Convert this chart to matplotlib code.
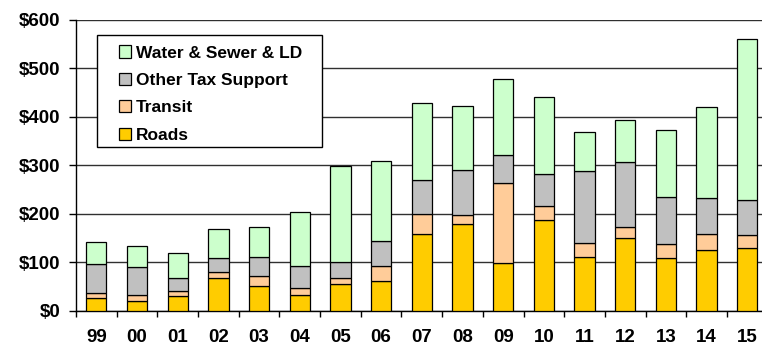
import numpy as np
import matplotlib.pyplot as plt
from matplotlib.patches import Patch, Rectangle

plt.rcParams['font.family'] = ['Liberation Sans', 'DejaVu Sans']
plt.rcParams['font.weight'] = 'bold'

# Datos (millones de $)
years = ['99', '00', '01', '02', '03', '04', '05', '06', '07', '08',
         '09', '10', '11', '12', '13', '14', '15']
roads = [26, 21, 31, 69, 52, 32, 56, 62, 158, 179, 98, 187, 111, 150, 109, 126, 129]
transit = [12, 12, 11, 11, 20, 15, 13, 31, 42, 19, 165, 29, 29, 23, 29, 32, 27]
other_tax = [59, 58, 25, 29, 39, 46, 31, 52, 71, 93, 58, 67, 149, 134, 96, 75, 73]
water_sewer = [46, 44, 53, 60, 62, 112, 198, 164, 158, 132, 157, 158, 80, 87, 140, 187, 331]

series = [
    ('Roads', roads, '#FFCC00'),
    ('Transit', transit, '#FFCC99'),
    ('Other Tax Support', other_tax, '#C0C0C0'),
    ('Water & Sewer & LD', water_sewer, '#CCFFCC'),
]

fig = plt.figure(figsize=(7.62, 3.45), dpi=100)
ax = fig.add_axes([0.0997, 0.0986, 0.9077, 0.8435])

x = np.arange(len(years))
bottom = np.zeros(len(years))
handles = []
for name, vals, color in series:
    ax.bar(x, vals, width=0.5, bottom=bottom, color=color,
           edgecolor='black', linewidth=0.9, zorder=3)
    bottom += np.array(vals)
    handles.append(Patch(facecolor=color, edgecolor='black', linewidth=0.9, label=name))

ax.set_xlim(-0.5, len(years) - 0.5)
ax.set_ylim(0, 600)
ax.set_yticks(range(0, 601, 100))
ax.set_yticklabels([f'${v}' for v in range(0, 601, 100)], fontsize=13.5, fontweight='bold')
ax.yaxis.grid(True, color='#303030', linewidth=1.0, zorder=0)
ax.set_axisbelow(True)

# Marcas entre categorias, etiquetas centradas
ax.set_xticks(np.arange(len(years) + 1) - 0.5)
ax.set_xticklabels([])
ax.set_xticks(x, minor=True)
ax.set_xticklabels(years, minor=True, fontsize=13.5, fontweight='bold')
ax.tick_params(axis='x', which='major', direction='out', length=4, width=1)
ax.tick_params(axis='x', which='minor', length=0, pad=13)
ax.tick_params(axis='y', direction='out', length=5, width=1, pad=6)

for s in ['top', 'right']:
    ax.spines[s].set_visible(False)
ax.spines['left'].set_linewidth(1)
ax.spines['bottom'].set_linewidth(1)

# Marco de la leyenda
ax.add_patch(Rectangle((0.0308, 0.5636), 0.3244, 0.3849, transform=ax.transAxes,
                       facecolor='white', edgecolor='black', linewidth=1, zorder=4))
leg = ax.legend(handles=handles[::-1], loc='upper left', bbox_to_anchor=(0.062, 0.913),
                borderaxespad=0, borderpad=0, fontsize=12.5, frameon=False,
                handlelength=0.72, handleheight=0.72, handletextpad=0.25,
                labelspacing=0.70)
leg.set_zorder(5)
for t in leg.get_texts():
    t.set_fontweight('bold')

plt.savefig('out.png', dpi=100, facecolor='white')
plt.close()
